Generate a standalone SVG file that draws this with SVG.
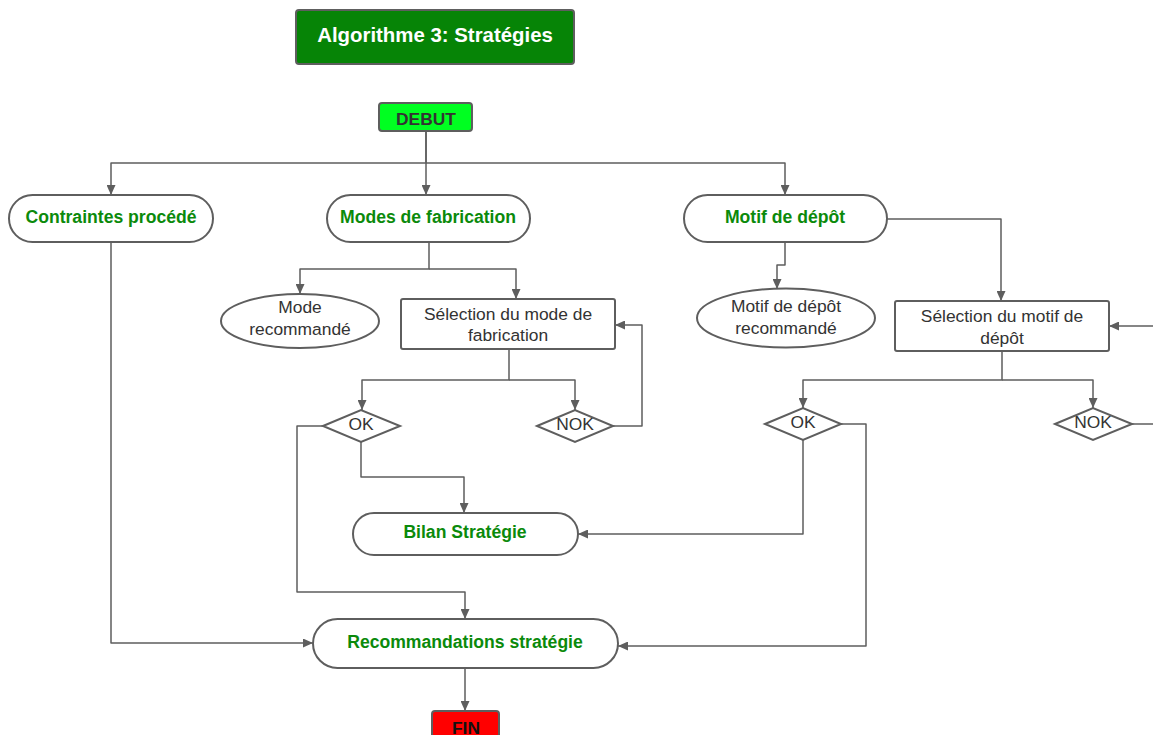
<svg xmlns="http://www.w3.org/2000/svg" width="1153" height="735" viewBox="0 0 1153 735">
<style>
.n{fill:#fff;stroke:#5e5e5e;stroke-width:2}
.g{font-family:"Liberation Sans",Arial,sans-serif;font-weight:bold;font-size:17.6px;fill:#0b8a0b;text-anchor:middle}
.t{font-family:"Liberation Sans",Arial,sans-serif;font-size:17.4px;fill:#333;text-anchor:middle}
.c path{fill:none;stroke:#5e5e5e;stroke-width:1.5;stroke-linejoin:round}
.a{marker-end:url(#ah)}
</style>
<defs>
<marker id="ah" markerUnits="userSpaceOnUse" markerWidth="11" markerHeight="9" refX="10" refY="4.5" orient="auto">
<path d="M0,0 L10,4.5 L0,9 z" fill="#5e5e5e"/>
</marker>
</defs>
<rect width="1153" height="735" fill="#fff"/>
<g id="connectors" class="c">
<path class="a" d="M426,131 V163 H111 V195"/>
<path class="a" d="M426,131 V195"/>
<path class="a" d="M426,163 H785 V195"/>
<path class="a" d="M429,242 V269 H300 V294"/>
<path class="a" d="M429,269 H516 V299"/>
<path class="a" d="M509,349 V380 H362 V410"/>
<path class="a" d="M509,380 H575 V410"/>
<path class="a" d="M613,426 H642 V325 H615"/>
<path class="a" d="M323,426 H297 V592 H465 V619"/>
<path class="a" d="M361,442 V477 H464 V513"/>
<path class="a" d="M111,242 V643 H313"/>
<path class="a" d="M465,668 V711"/>
<path class="a" d="M785,242 V265 H777 V289"/>
<path class="a" d="M887,219 H1001 V301"/>
<path class="a" d="M1153,326 H1109"/>
<path class="a" d="M1002,351 V380 H803 V408"/>
<path class="a" d="M1002,380 H1093 V408"/>
<path d="M1132,424 H1153"/>
<path class="a" d="M841,424 H866 V646 H618"/>
<path class="a" d="M803,440 V534 H578"/>
</g>
<g id="title">
<rect x="296" y="10" width="278" height="54" rx="3" fill="#068406" stroke="#5e5e5e" stroke-width="2"/>
<text x="435" y="42" font-family="Liberation Sans,Arial,sans-serif" font-weight="bold" font-size="20.4" fill="#fff" text-anchor="middle">Algorithme 3: Stratégies</text>
</g>
<g id="debut">
<rect x="379" y="103" width="93" height="28" rx="3" fill="#00ff21" stroke="#5e5e5e" stroke-width="2"/>
<text x="426" y="125" font-family="Liberation Sans,Arial,sans-serif" font-weight="bold" font-size="17.4" fill="#333" text-anchor="middle">DEBUT</text>
</g>
<g id="contraintes">
<rect class="n" x="9" y="195" width="204" height="47" rx="23.5"/>
<text class="g" x="111" y="223">Contraintes procédé</text>
</g>
<g id="modes">
<rect class="n" x="327" y="195" width="203" height="47" rx="23.5"/>
<text class="g" x="428" y="223">Modes de fabrication</text>
</g>
<g id="motif">
<rect class="n" x="684" y="195" width="203" height="47" rx="23.5"/>
<text class="g" x="785" y="223">Motif de dépôt</text>
</g>
<g id="mode-recommande">
<ellipse class="n" cx="300" cy="321" rx="79" ry="27"/>
<text class="t" x="300" y="313">Mode</text>
<text class="t" x="300" y="335">recommandé</text>
</g>
<g id="selection-mode">
<rect class="n" x="401" y="299" width="214" height="50" rx="2"/>
<text class="t" x="508" y="320">Sélection du mode de</text>
<text class="t" x="508" y="341">fabrication</text>
</g>
<g id="ok1">
<polygon class="n" points="323,426 361,410 400,426 361,442"/>
<text class="t" x="361" y="430">OK</text>
</g>
<g id="nok1">
<polygon class="n" points="537,426 575,410 613,426 575,442"/>
<text class="t" x="575" y="430">NOK</text>
</g>
<g id="motif-recommande">
<ellipse class="n" cx="786" cy="318" rx="89" ry="29.5"/>
<text class="t" x="786" y="312">Motif de dépôt</text>
<text class="t" x="786" y="334">recommandé</text>
</g>
<g id="selection-motif">
<rect class="n" x="895" y="301" width="214" height="50" rx="2"/>
<text class="t" x="1002" y="322">Sélection du motif de</text>
<text class="t" x="1002" y="344">dépôt</text>
</g>
<g id="ok2">
<polygon class="n" points="765,424 803,408 841,424 803,440"/>
<text class="t" x="803" y="428">OK</text>
</g>
<g id="nok2">
<polygon class="n" points="1055,424 1093,408 1132,424 1093,440"/>
<text class="t" x="1093" y="428">NOK</text>
</g>
<g id="bilan">
<rect class="n" x="353" y="513" width="225" height="42" rx="21"/>
<text class="g" x="465" y="538">Bilan Stratégie</text>
</g>
<g id="recommandations">
<rect class="n" x="313" y="619" width="305" height="49" rx="24.5"/>
<text class="g" x="465" y="648">Recommandations stratégie</text>
</g>
<g id="fin">
<rect x="432" y="711" width="67" height="32" rx="3" fill="#ff0000" stroke="#5e5e5e" stroke-width="2"/>
<text x="466" y="734" font-family="Liberation Sans,Arial,sans-serif" font-weight="bold" font-size="17.4" fill="#111" text-anchor="middle">FIN</text>
</g>
</svg>
